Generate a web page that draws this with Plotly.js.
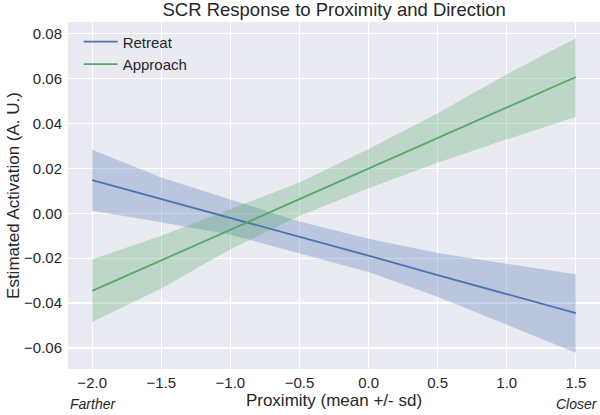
<!DOCTYPE html>
<html>
<head>
<meta charset="utf-8">
<script src="https://cdn.plot.ly/plotly-3.0.1.min.js"></script>
<style>html,body{margin:0;padding:0;background:#fff}#chart{width:600px;height:415px}</style>
</head>
<body>
<div id="chart"></div>
<script>
// Proximity values (mean +/- sd)
const proximity = [-2.0, -1.5, -1.0, -0.5, 0.0, 0.5, 1.0, 1.5];

// Retreat: estimate and confidence band
const retreatEst   = [0.0148, 0.0064, -0.0018, -0.0104, -0.0189, -0.0275, -0.0361, -0.0445];
const retreatUpper = [0.0283, 0.0160, 0.0062, -0.0036, -0.0113, -0.0177, -0.0225, -0.0272];
const retreatLower = [0.0011, -0.0040, -0.0095, -0.0180, -0.0262, -0.0372, -0.0495, -0.0621];

// Approach: estimate and confidence band
const approachEst   = [-0.0346, -0.0210, -0.0072, 0.0063, 0.0200, 0.0336, 0.0472, 0.0608];
const approachUpper = [-0.0205, -0.0100, 0.0018, 0.0138, 0.0287, 0.0446, 0.0620, 0.0781];
const approachLower = [-0.0484, -0.0335, -0.0160, -0.0012, 0.0112, 0.0226, 0.0330, 0.0430];

const seriesNames = ["Retreat", "Approach"];
const xTickVals = [-2.0, -1.5, -1.0, -0.5, 0.0, 0.5, 1.0, 1.5];
const yTickVals = [-0.06, -0.04, -0.02, 0.00, 0.02, 0.04, 0.06, 0.08];

const blue = "#4C72B0", green = "#55A868";

function band(upper, lower, color) {
  return {
    x: proximity.concat(proximity.slice().reverse()),
    y: upper.concat(lower.slice().reverse()),
    type: "scatter", mode: "lines", fill: "toself",
    fillcolor: color, line: {width: 0, color: "rgba(0,0,0,0)"},
    hoverinfo: "skip", showlegend: false
  };
}

const data = [
  band(retreatUpper, retreatLower, "rgba(76,114,176,0.3)"),
  band(approachUpper, approachLower, "rgba(85,168,104,0.3)"),
  {x: proximity, y: retreatEst, type: "scatter", mode: "lines", name: seriesNames[0],
   line: {color: blue, width: 1.8}},
  {x: proximity, y: approachEst, type: "scatter", mode: "lines", name: seriesNames[1],
   line: {color: green, width: 1.8}}
];

const fontFam = "Liberation Sans, Arial, sans-serif";
const txt = "#262626";

const layout = {
  width: 600, height: 415,
  margin: {l: 68, r: 0, t: 22, b: 46},
  paper_bgcolor: "#ffffff",
  plot_bgcolor: "#EAEAF2",
  font: {family: fontFam, color: txt, size: 15},
  title: {text: "SCR Response to Proximity and Direction", font: {size: 18.5, color: txt},
          x: 0.557, xanchor: "center", yref: "container", y: 0.976, yanchor: "middle"},
  xaxis: {
    range: [-2.175, 1.675], tickvals: xTickVals, tickformat: ".1f",
    gridcolor: "#ffffff", gridwidth: 1.2, zeroline: false, showline: false,
    ticks: "", tickfont: {size: 15, color: txt}, ticklabelstandoff: 3,
    title: {text: "Proximity (mean +/- sd)", font: {size: 17, color: txt}, standoff: 2}
  },
  yaxis: {
    range: [-0.0694, 0.0853], tickvals: yTickVals, tickformat: ".2f",
    gridcolor: "#ffffff", gridwidth: 1.2, zeroline: false, showline: false,
    ticks: "", tickfont: {size: 15, color: txt}, ticklabelstandoff: 5,
    title: {text: "Estimated Activation (A. U.)", font: {size: 17, color: txt}, standoff: 0}
  },
  legend: {x: 0.02, y: 0.99, xanchor: "left", yanchor: "top",
           bgcolor: "rgba(0,0,0,0)", borderwidth: 0, font: {size: 15, color: txt},
           itemwidth: 34, tracegroupgap: 0},
  showlegend: true,
  annotations: [
    {text: "<i>Farther</i>", xref: "paper", yref: "paper", x: 0.0, y: -0.1297,
     xanchor: "left", yanchor: "bottom", showarrow: false, font: {size: 14, color: txt}},
    {text: "<i>Closer</i>", xref: "paper", yref: "paper", x: 1.0, y: -0.1297,
     xanchor: "right", yanchor: "bottom", showarrow: false, font: {size: 14, color: txt}}
  ]
};

Plotly.newPlot("chart", data, layout, {displayModeBar: false, staticPlot: true});
</script>
</body>
</html>
